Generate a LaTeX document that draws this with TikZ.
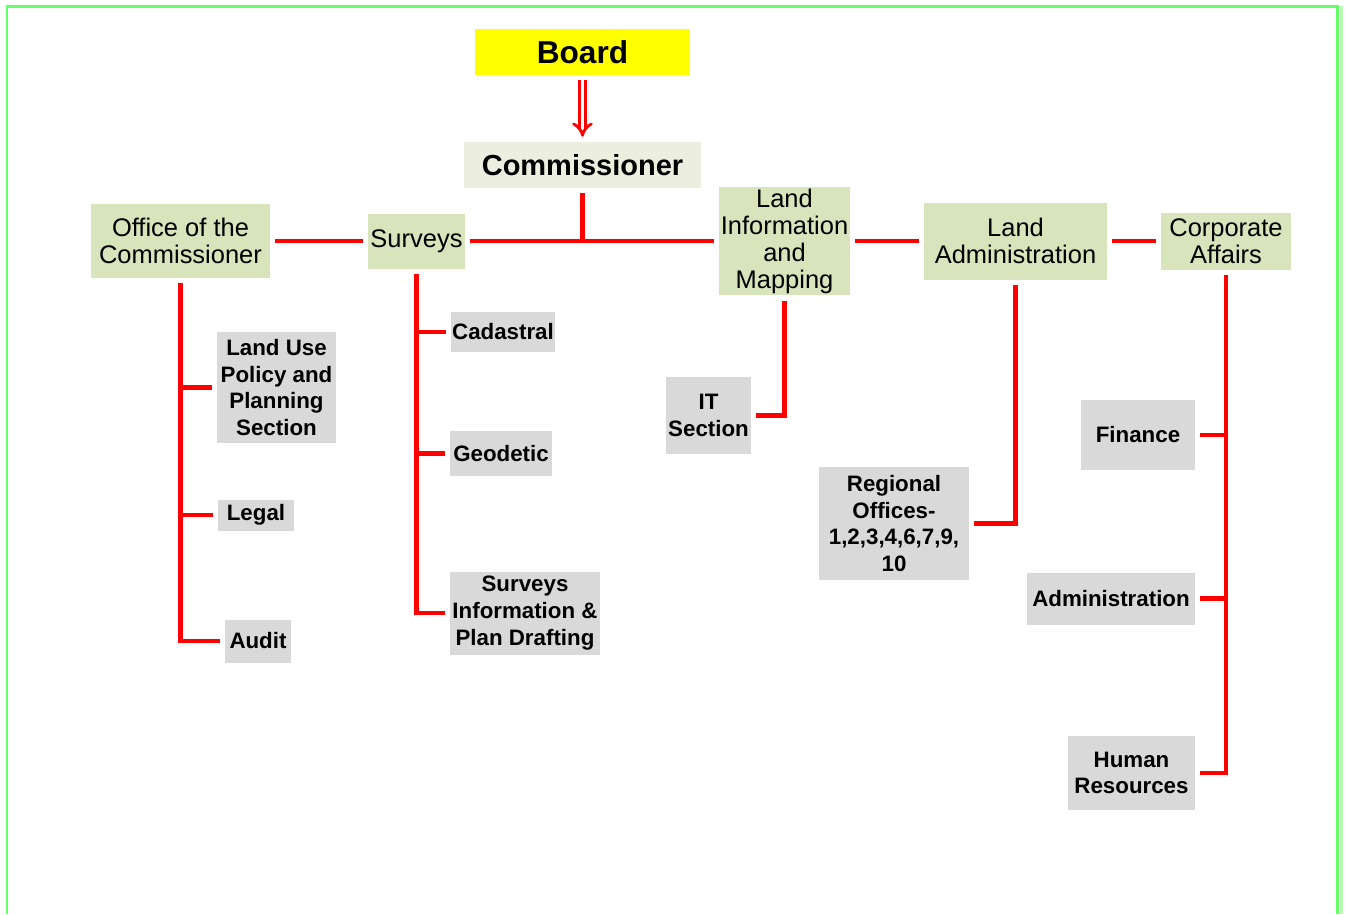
\documentclass[tikz,border=0pt]{standalone}
\usepackage{fontspec}
\setmainfont{Liberation Sans}
\usetikzlibrary{arrows.meta}
\definecolor{boardyellow}{HTML}{FFFF00}
\definecolor{commpale}{HTML}{ECEFE0}
\definecolor{unitgreen}{HTML}{D8E4BC}
\definecolor{sectgray}{HTML}{D9D9D9}
\definecolor{linkred}{HTML}{FF0000}
\definecolor{framegreen}{HTML}{66FF66}

\begin{document}
\begin{tikzpicture}[x=0.02cm, y=-0.02cm,
    every node/.style={inner sep=0pt, outer sep=3pt, align=center},
    unit/.style={fill=unitgreen, font={\fontsize{14.5}{15.4}\selectfont}},
    sect/.style={fill=sectgray, font={\bfseries\fontsize{12.7}{15.2}\selectfont}},
    link/.style={draw=linkred, line width=2.6pt}]
  \useasboundingbox (0,0) rectangle (1346,914);
  % page frame
  \draw[framegreen, line width=1.7pt] (7,914) -- (7,6) -- (1337,6) -- (1337,914);
  \draw[framegreen!45, line width=1.7pt] (1341,6) -- (1341,914);

  \node[fill=boardyellow, font={\bfseries\fontsize{18}{20}\selectfont}, minimum width=4.3cm, minimum height=0.92cm] (board) at (582.5,52) {Board};
  \node[fill=commpale, font={\bfseries\fontsize{16.5}{19}\selectfont}, minimum width=4.74cm, minimum height=0.92cm] (comm) at (582.5,165) {Commissioner};

  % divisions
  \node[unit, minimum width=3.58cm, minimum height=1.48cm] (office) at (180.5,241) {Office of the\\Commissioner};
  \node[unit, minimum width=1.94cm, minimum height=1.1cm] (surveys) at (416.5,241) {Surveys};
  \node[unit, minimum width=2.62cm, minimum height=2.18cm] (lim) at (784.5,241) {Land\\Information\\and\\Mapping};
  \node[unit, minimum width=3.66cm, minimum height=1.54cm] (landadm) at (1015.5,241) {Land\\Administration};
  \node[unit, minimum width=2.6cm, minimum height=1.14cm] (corp) at (1226,241) {Corporate\\Affairs};

  % sections
  \node[sect, minimum width=2.38cm, minimum height=2.22cm] (landuse) at (276.5,387.5) {Land Use\\Policy and\\Planning\\Section};
  \node[sect, minimum width=1.52cm, minimum height=0.62cm] (legal) at (256,515) {Legal};
  \node[sect, minimum width=1.32cm, minimum height=0.86cm] (audit) at (258,641) {Audit};
  \node[sect, minimum width=2.08cm, minimum height=0.8cm] (cadastral) at (503,332) {Cadastral};
  \node[sect, minimum width=2.04cm, minimum height=0.9cm] (geodetic) at (501,453.5) {Geodetic};
  \node[sect, minimum width=3.0cm, minimum height=1.66cm] (sipd) at (525,613) {Surveys\\Information \&\\Plan Drafting};
  \node[sect, minimum width=1.7cm, minimum height=1.54cm] (itsec) at (708.5,415.5) {IT\\Section};
  \node[sect, minimum width=3.0cm, minimum height=2.26cm] (regional) at (894,523.5) {Regional\\Offices-\\1,2,3,4,6,7,9,\\10};
  \node[sect, minimum width=2.28cm, minimum height=1.4cm] (finance) at (1138,435) {Finance};
  \node[sect, minimum width=3.36cm, minimum height=1.04cm] (admin) at (1111,598.5) {Administration};
  \node[sect, minimum width=2.54cm, minimum height=1.48cm] (hr) at (1131.5,773) {Human\\Resources};

  \draw[linkred, double, line width=1.6pt, double distance=2.2pt, -{Implies}] (board) -- (comm);
  \draw[link] (office) -- (surveys);
  \draw[link] (surveys) -- (lim);
  \draw[link] (comm) |- (lim.west);
  \draw[link] (lim) -- (landadm);
  \draw[link] (landadm) -- (corp);

  \draw[link] (office.south) |- (landuse);
  \draw[link] (office.south) |- (legal);
  \draw[link] (office.south) |- (audit);
  \draw[link] (surveys.south) |- (cadastral);
  \draw[link] (surveys.south) |- (geodetic);
  \draw[link] (surveys.south) |- (sipd);
  \draw[link] (lim.south) |- (itsec);
  \draw[link] (landadm.south) |- (regional);
  \draw[link] (corp.south) |- (finance);
  \draw[link] (corp.south) |- (admin);
  \draw[link] (corp.south) |- (hr);
\end{tikzpicture}
\end{document}
